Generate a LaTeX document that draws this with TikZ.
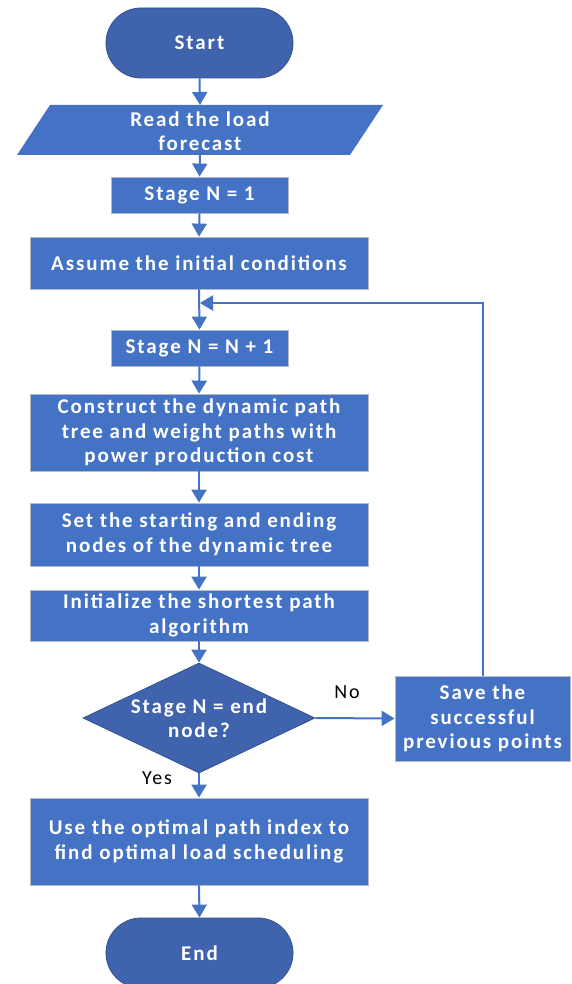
\documentclass[tikz,border=0pt]{standalone}
\usepackage{fontspec}
\setmainfont{Carlito}
\newfontfamily\boxfont[LetterSpace=9]{Carlito}
\usetikzlibrary{arrows.meta,shapes.geometric}
\definecolor{boxblue}{HTML}{4472C4}
\definecolor{darkblue}{HTML}{3F64AD}
\definecolor{edgegray}{HTML}{B4B9C4}
\begin{document}
\begin{tikzpicture}[x=1pt,y=1pt,
  every node/.style={font=\boxfont\fontsize{21}{24.5}\selectfont\bfseries, text=white, align=center, inner sep=0pt},
  procbox/.style={rectangle, fill=boxblue, draw=edgegray, line width=0.8pt},
  termbox/.style={rectangle, rounded corners=35pt, fill=darkblue, draw=darkblue!80!black, line width=0.8pt, minimum width=187pt, minimum height=70pt},
  decbox/.style={diamond, fill=darkblue, draw=darkblue!80!black, line width=0.8pt, minimum width=232pt, minimum height=110pt, aspect=2.1},
  conn/.style={draw=boxblue, line width=2pt, -{Triangle[width=15pt,length=13pt]}},
  lbl/.style={font=\boxfont\fontsize{20}{23}\selectfont, text=black}
]
\useasboundingbox (0,0) rectangle (571,-984);
\node[termbox] (start) at (199.5,-43) {Start};
\fill[boxblue] (50,-105) -- (383,-105) -- (350,-155) -- (17,-155) -- cycle;
\node (read) at (200,-131) {Read the load\\forecast};
\coordinate (readtop) at (200,-105);
\coordinate (readbot) at (200,-155);
\node[procbox, minimum width=177pt, minimum height=36pt] (s1) at (199.5,-195) {Stage N = 1};
\node[procbox, minimum width=338pt, minimum height=52pt] (assume) at (199,-263) {Assume the initial conditions};
\coordinate (join) at (200,-303);
\node[procbox, minimum width=177pt, minimum height=36pt] (snn) at (199.5,-348) {Stage N = N + 1};
\node[procbox, minimum width=338pt, minimum height=77pt] (construct) at (199,-432.5) {Construct the dynamic path\\tree and weight paths with\\power production cost};
\node[procbox, minimum width=338pt, minimum height=63pt] (set) at (199,-534.5) {Set the starting and ending\\nodes of the dynamic tree};
\node[procbox, minimum width=338pt, minimum height=51pt] (init) at (199,-615.5) {Initialize the shortest path\\algorithm};
\node[decbox] (dec) at (199,-718) {Stage N = end\\node?};
\node[procbox, minimum width=175pt, minimum height=85pt] (save) at (482.5,-718.5) {Save the\\successful\\previous points};
\node[procbox, minimum width=338pt, minimum height=87pt] (use) at (199,-841.5) {Use the optimal path index to\\find optimal load scheduling};
\node[termbox] (end) at (199.5,-953) {End};
\node[lbl] at (347,-692) {No};
\node[lbl] at (157,-778) {Yes};
\draw[conn] (start.south) -- (readtop);
\draw[conn] (readbot) -- (s1.north);
\draw[conn] (s1.south) -- (assume.north);
\draw[conn] (assume.south) -- (snn.north);
\draw[conn] (snn.south) -- (construct.north);
\draw[conn] (construct.south) -- (set.north);
\draw[conn] (set.south) -- (init.north);
\draw[conn] (init.south) -- (dec.north);
\draw[conn] (dec.east) -- (save.west);
\draw[conn] (dec.south) -- (use.north);
\draw[conn] (use.south) -- (end.north);
\draw[conn] (save.north) |- (join);
\end{tikzpicture}
\end{document}
